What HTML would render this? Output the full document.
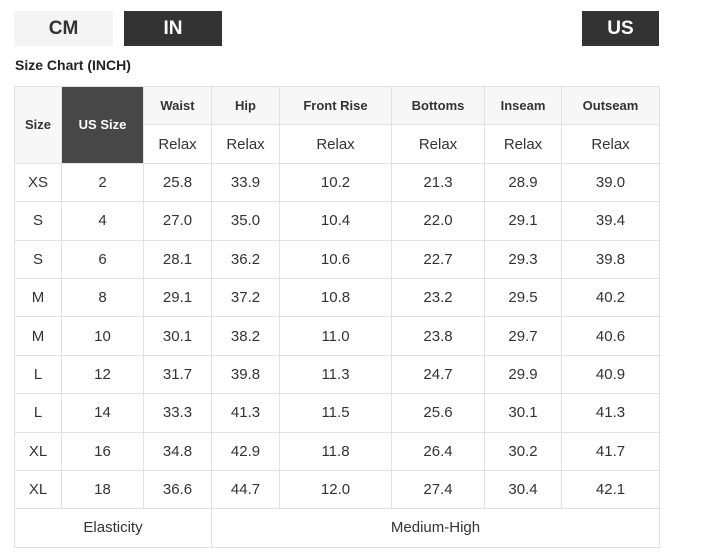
<!DOCTYPE html>
<html><head><style>
body{margin:0;background:#fff;font-family:"Liberation Sans",Arial,sans-serif;width:710px;height:556px;position:relative;overflow:hidden}
.btn{position:absolute;top:11px;height:35px;line-height:36px;text-align:center;font-size:19px;font-weight:bold}
.title{position:absolute;left:15px;top:57px;font-size:14px;font-weight:bold;color:#222}
table{position:absolute;left:14px;top:86px;border-collapse:collapse;table-layout:fixed;width:645px}
td{border:1px solid #e2e2e2;text-align:center;font-size:15px;color:#333;padding:0;height:37.4px}
.h{background:#f7f7f7;font-weight:bold;font-size:13px;color:#333}
.r{background:#fff}
.d{background:#474747;color:#fff;font-weight:bold;font-size:13px}
</style></head><body>
<div class="btn" style="left:14px;width:99px;background:#f4f4f4;color:#333">CM</div>
<div class="btn" style="left:124px;width:98px;background:#333;color:#fff">IN</div>
<div class="btn" style="left:582px;width:77px;background:#333;color:#fff">US</div>
<div class="title">Size Chart (INCH)</div>
<table>
<colgroup><col style="width:47px"><col style="width:82px"><col style="width:68px"><col style="width:68px"><col style="width:112px"><col style="width:93px"><col style="width:77px"><col style="width:98px"></colgroup>
<tr><td class="h" rowspan="2">Size</td><td class="d" rowspan="2">US Size</td><td class="h">Waist</td><td class="h">Hip</td><td class="h">Front Rise</td><td class="h">Bottoms</td><td class="h">Inseam</td><td class="h">Outseam</td></tr>
<tr><td>Relax</td><td>Relax</td><td>Relax</td><td>Relax</td><td>Relax</td><td>Relax</td></tr>
<tr><td>XS</td><td>2</td><td>25.8</td><td>33.9</td><td>10.2</td><td>21.3</td><td>28.9</td><td>39.0</td></tr>
<tr><td>S</td><td>4</td><td>27.0</td><td>35.0</td><td>10.4</td><td>22.0</td><td>29.1</td><td>39.4</td></tr>
<tr><td>S</td><td>6</td><td>28.1</td><td>36.2</td><td>10.6</td><td>22.7</td><td>29.3</td><td>39.8</td></tr>
<tr><td>M</td><td>8</td><td>29.1</td><td>37.2</td><td>10.8</td><td>23.2</td><td>29.5</td><td>40.2</td></tr>
<tr><td>M</td><td>10</td><td>30.1</td><td>38.2</td><td>11.0</td><td>23.8</td><td>29.7</td><td>40.6</td></tr>
<tr><td>L</td><td>12</td><td>31.7</td><td>39.8</td><td>11.3</td><td>24.7</td><td>29.9</td><td>40.9</td></tr>
<tr><td>L</td><td>14</td><td>33.3</td><td>41.3</td><td>11.5</td><td>25.6</td><td>30.1</td><td>41.3</td></tr>
<tr><td>XL</td><td>16</td><td>34.8</td><td>42.9</td><td>11.8</td><td>26.4</td><td>30.2</td><td>41.7</td></tr>
<tr><td>XL</td><td>18</td><td>36.6</td><td>44.7</td><td>12.0</td><td>27.4</td><td>30.4</td><td>42.1</td></tr>
<tr><td colspan="3">Elasticity</td><td colspan="5">Medium-High</td></tr>
</table>
</body></html>
